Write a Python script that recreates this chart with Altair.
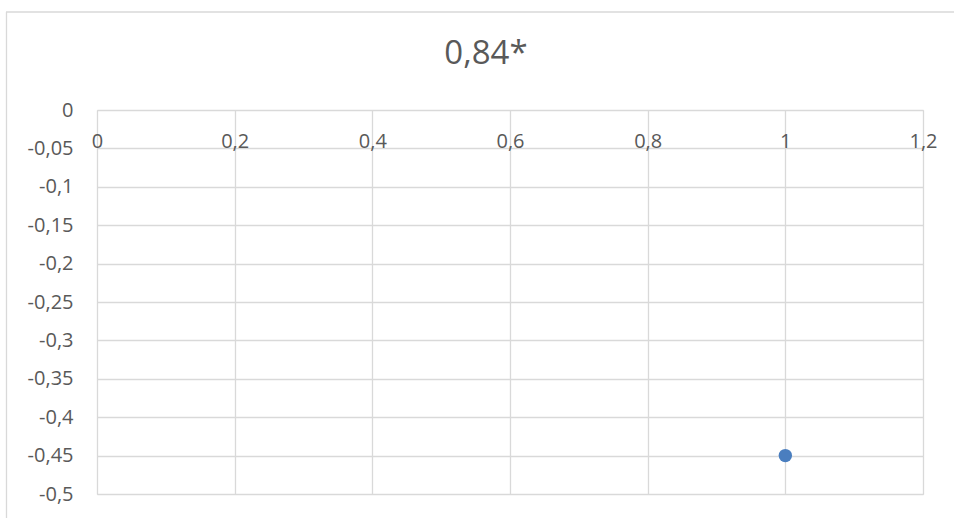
import altair as alt
import pandas as pd

# data
x_values = [1.0]
y_values = [-0.45]
x_ticks = [0, 0.2, 0.4, 0.6, 0.8, 1.0, 1.2]
y_ticks = [0, -0.05, -0.1, -0.15, -0.2, -0.25, -0.3, -0.35, -0.4, -0.45, -0.5]
title_text = "0,84*"

df = pd.DataFrame({"x": x_values, "y": y_values})

W, H = 826, 384
FONT = "Open Sans"
TXT = "#595959"
GRID = "#d9d9d9"

x_enc = alt.X(
    "x:Q",
    scale=alt.Scale(domain=[0, 1.2], nice=False, zero=False),
    axis=alt.Axis(
        values=x_ticks, format=".1~f", orient="bottom", offset=-H,
        domain=False, ticks=False, grid=True, gridColor=GRID, gridWidth=1.3,
        labelFont=FONT, labelFontSize=20, labelColor=TXT,
        labelBaseline="middle", labelPadding=31, labelFlush=False,
        labelOverlap=False, title=None,
    ),
)
y_enc = alt.Y(
    "y:Q",
    scale=alt.Scale(domain=[-0.5, 0], nice=False, zero=False),
    axis=alt.Axis(
        values=y_ticks, format=".2~f",
        domain=False, ticks=False, grid=True, gridColor=GRID, gridWidth=1.3,
        labelFont=FONT, labelFontSize=20, labelColor=TXT,
        labelPadding=24, labelFlush=False, labelOverlap=False, title=None,
    ),
)

points = alt.Chart(df).mark_circle(size=180, color="#4a7ebf", opacity=1).encode(
    x=x_enc, y=y_enc
)

frame_top = alt.Chart(df).mark_rule(color=GRID, strokeWidth=1.3).encode(
    x=alt.value(-91), x2=alt.value(W + 31), y=alt.value(-98)
)
frame_left = alt.Chart(df).mark_rule(color=GRID, strokeWidth=1.3).encode(
    x=alt.value(-90.5), y=alt.value(-98), y2=alt.value(H + 24)
)

chart = alt.layer(frame_top, frame_left, points).properties(
    width=W, height=H,
    title=alt.TitleParams(
        text=title_text, font=FONT, fontSize=33, fontWeight="normal",
        color=TXT, anchor="middle", dx=-24, baseline="alphabetic", offset=-86,
    ),
    autosize=alt.AutoSizeParams(type="none"),
    padding={"left": 97, "top": 110, "right": 31, "bottom": 24},
).configure_view(stroke=None).configure(
    locale={"number": {"decimal": ",", "thousands": " ", "grouping": [3],
                       "currency": ["", ""], "minus": "-"}}
)

chart.save("out.html", embed_options={"renderer": "svg", "actions": False})
